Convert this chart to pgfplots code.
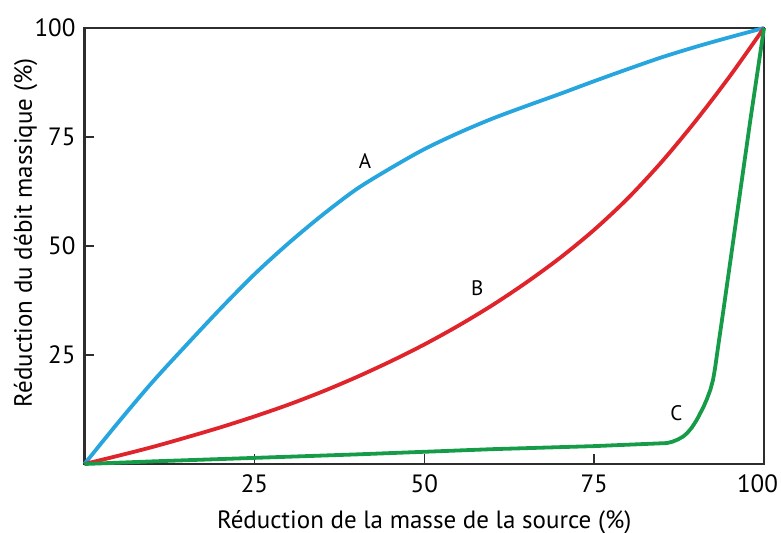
\documentclass[border=0pt]{standalone}
\usepackage{fontspec}
\setmainfont{PT Sans}
\usepackage{pgfplots}
\pgfplotsset{compat=1.18}
\definecolor{cA}{RGB}{38,165,222}
\definecolor{cB}{RGB}{224,36,44}
\definecolor{cC}{RGB}{22,156,72}
\definecolor{axc}{RGB}{45,45,45}
\begin{document}
\begin{tikzpicture}
\path[use as bounding box] (-42.25pt,-34.5pt) rectangle (348.25pt,232pt);
\begin{axis}[
  scale only axis,
  width=339.75pt, height=218pt,
  xmin=0, xmax=100, ymin=0, ymax=100,
  xtick={25,50,75,100}, ytick={25,50,75,100},
  xticklabels={25,50,75,\hspace*{-6.5pt}100},
  xtick pos=left, ytick pos=left,
  tick align=inside,
  major tick length=5pt,
  every tick/.style={axc, line width=0.7pt},
  axis line style={axc, line width=1.3pt},
  /pgf/number format/assume math mode=true,
  ticklabel style={font=\fontsize{12.5}{15}\selectfont, text=black},
  xticklabel style={yshift=-2pt},
  yticklabel style={xshift=-1pt},
  xlabel={Réduction de la masse de la source (\%)},
  ylabel={Réduction du débit massique (\%)},
  label style={font=\fontsize{12.5}{15}\selectfont},
  xlabel style={at={(axis description cs:0.5,0)}, anchor=center, yshift=-29pt},
  ylabel style={at={(axis description cs:-0.0868,0.53)}, anchor=center},
  clip=false,
]
\addplot[cA, line width=1.9pt, smooth] coordinates {
(0,0) (5,9.6) (10,18.8) (15,27.3) (20,35.6) (25,43.5) (30,50.6) (35,57.1) (40,63) (45,67.8) (50,72.2) (55,75.9) (60,79.2) (65,82.1) (70,84.9) (75,87.8) (80,90.6) (85,93.3) (90,95.7) (95,97.9) (100,100)
};
\addplot[cB, line width=1.9pt, smooth] coordinates {
(0,0) (5,1.9) (10,3.9) (15,6.1) (20,8.4) (25,10.9) (30,13.6) (35,16.6) (40,19.9) (45,23.5) (50,27.4) (55,31.7) (60,36.4) (65,41.6) (70,47.3) (75,53.7) (80,61.0) (85,69.4) (90,78.8) (95,89.0) (100,100)
};
\addplot[cC, line width=1.9pt] coordinates {
(0,0) (10,0.6) (25,1.4) (40,2.2) (50,2.8) (60,3.4) (75,4.1) (85.7,4.8) (86.5,5.1) (87.3,5.6) (88.1,6.3) (88.7,7.1) (89.4,8.4) (90.1,10.1) (90.6,11.6) (91.1,13.1) (91.6,14.9) (92.1,17) (92.5,19.3) (92.8,22) (93.3,27.5) (94,35) (95,46) (96,57) (97,68) (98,79) (99,89.5) (100,100)
};
\node[font=\fontsize{10.5}{12}\selectfont] at (axis cs:41.3,69.6) {A};
\node[font=\fontsize{10.5}{12}\selectfont] at (axis cs:57.8,40.3) {B};
\node[font=\fontsize{10.5}{12}\selectfont] at (axis cs:87.1,11.7) {C};
\end{axis}
\end{tikzpicture}
\end{document}
